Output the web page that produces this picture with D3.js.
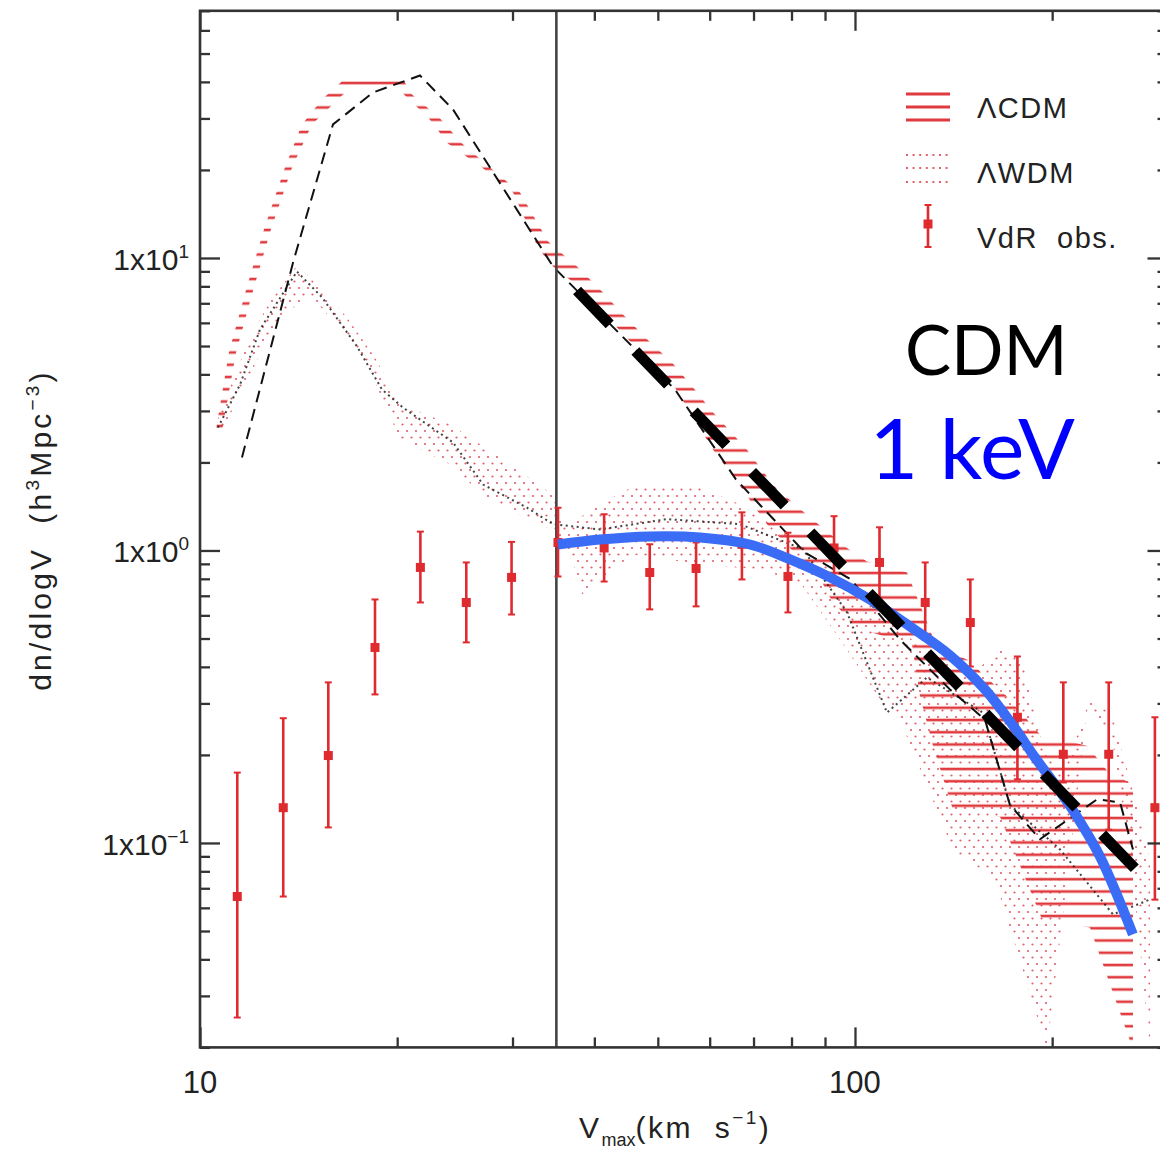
<!DOCTYPE html>
<html><head><meta charset="utf-8">
<script src="https://cdn.jsdelivr.net/npm/d3@7"></script>
<style>
html,body{margin:0;padding:0;background:#fff;}
svg{display:block;}
text{white-space:pre;}
</style></head>
<body>
<svg id="chart" width="1160" height="1149"></svg>
<script>
// ---------- data ----------
const xDomain = [10, 300];
const yDomain = [0.02, 70];
const xTickValues = [10, 100];
const xTickLabels = ["10", "100"];
const yTickValues = [0.1, 1, 10];
const yTickExponents = ["\u22121", "0", "1"];
const cutVelocity = 35;

// VdR observations
const obsV  = [11.4, 13.4, 15.7, 18.5, 21.7, 25.5, 29.9, 35.2, 41.4, 48.6, 57.2, 67.2, 79.0, 92.9, 109, 128, 150, 177, 208, 244, 287];
const obsN  = [0.0656, 0.132, 0.199, 0.466, 0.875, 0.664, 0.809, 1.065, 1.02, 0.841, 0.868, 1.05, 0.815, 1.02, 0.91, 0.664, 0.567, 0.269, 0.201, 0.201, 0.132];
const obsLo = [0.0253, 0.0656, 0.113, 0.322, 0.664, 0.485, 0.604, 0.815, 0.783, 0.629, 0.644, 0.796, 0.614, 0.783, 0.644, 0.496, 0.401, 0.165, 0.161, 0.111, 0.064];
const obsHi = [0.174, 0.267, 0.354, 0.68, 1.16, 0.91, 1.07, 1.40, 1.33, 1.05, 1.065, 1.35, 1.15, 1.31, 1.2, 0.91, 0.796, 0.434, 0.354, 0.354, 0.269];

// LambdaCDM band [V, dn/dlogV]
const cdmUpper = [[10.58,2.59],[11.07,4.75],[11.75,7.74],[12.52,12.51],[13.48,20.39],[14.31,28.61],[15.36,34.84],[16.65,41.09],[20.34,41.41],[21.07,36.24],[23.25,29.99],[25.12,24.63],[27.72,20.39],[30.80,16.75],[34.00,11.39],[35.83,10.28],[37.64,9.35],[41.09,7.68],[44.24,6.41],[48.13,5.27],[52.55,4.39],[56.59,3.61],[60.72,2.96],[68.42,2.21],[75.21,1.66],[83.28,1.36],[97.23,1.02],[104.3,0.917],[120.1,0.841],[133.4,0.466],[148.3,0.424],[170.6,0.317],[191.6,0.235],[226.1,0.215],[242.5,0.177],[265.7,0.158]];
const cdmLower = [[10.80,2.55],[11.35,4.75],[12.05,7.74],[12.83,12.51],[13.82,20.39],[14.82,28.61],[16.24,34.84],[16.83,37.69],[20.20,37.69],[20.49,36.24],[22.37,29.99],[23.91,24.63],[26.95,20.39],[30.06,16.75],[32.48,11.39],[33.41,10.28],[34.60,9.35],[38.71,7.68],[41.53,6.41],[45.03,5.27],[49.16,4.39],[53.11,3.61],[56.00,2.96],[60.72,2.21],[66.76,1.66],[73.39,1.23],[79.57,1.02],[83.28,0.917],[87.50,0.841],[91.58,0.691],[100,0.545],[122.2,0.477],[125.7,0.317],[131.6,0.214],[141.1,0.130],[166.5,0.123],[193.0,0.0548],[228.4,0.0514],[265.7,0.0197]];
const cdmMedian = [[11.59,2.08],[13.87,9.65],[15.96,28.61],[18.37,36.81],[21.67,42.06],[24.34,32.19],[34.60,9.35],[53.11,3.55],[65.8,1.75],[83.87,0.984],[98.6,0.796],[117.1,0.496],[139.6,0.335],[157.9,0.264],[172.4,0.135],[191.6,0.103],[234.2,0.141],[253.9,0.1376],[265.7,0.095]];

// LambdaWDM band
const wdmUpper = [[10.58,2.70],[11.19,3.75],[11.92,5.35],[12.79,7.10],[14.06,9.43],[15.36,7.80],[16.77,6.26],[18.50,4.57],[20.20,3.18],[24.08,2.70],[28.71,2.08],[34.60,1.55],[36.08,1.20],[40.80,1.44],[46.48,1.68],[58.01,1.64],[66.76,1.44],[75.21,1.21],[83.87,1.02],[91.58,0.896],[105.4,0.680],[119.2,0.516],[134.9,0.424],[152.5,0.386],[166.5,0.459],[179.9,0.424],[195.0,0.201],[209.2,0.178],[228.4,0.310],[246.8,0.275],[262.9,0.165],[282.2,0.0878]];
const wdmLower = [[10.80,2.55],[11.51,3.41],[12.35,4.68],[13.48,6.41],[14.72,7.50],[16.36,5.70],[18.18,4.09],[20.20,2.40],[24.08,1.97],[27.24,1.52],[32.25,1.26],[34.83,1.16],[36.72,0.984],[38.31,0.707],[40.80,0.796],[45.83,0.969],[58.01,0.896],[71.61,0.861],[82.41,0.777],[94.86,0.496],[109.2,0.310],[117.1,0.264],[141.1,0.095],[163.6,0.075],[196.4,0.0197],[226.8,0.298],[246.8,0.226],[262.9,0.095],[282.2,0.0197]];
const wdmMedian = [[10.65,2.63],[11.51,3.69],[12.35,5.70],[14.06,8.99],[15.36,7.33],[17.37,4.98],[18.96,3.55],[20.41,3.08],[24.34,2.34],[27.05,1.68],[31.57,1.40],[34.60,1.23],[40.80,1.18],[51.64,1.28],[66.76,1.23],[83.28,1.01],[97.23,0.614],[111.9,0.279],[128.8,0.368],[156.8,0.279],[172.4,0.135],[205.6,0.095],[247.7,0.057],[282.2,0.0641]];

// overlays
const keV1Curve = [[35.2,1.048],[40.8,1.090],[48.6,1.117],[58.0,1.108],[69.1,1.048],[79.6,0.932],[91.6,0.809],[105.4,0.680],[121.3,0.550],[139.6,0.438],[157.9,0.335],[174.3,0.252],[188.3,0.196],[203.4,0.155],[216.7,0.126],[236.6,0.0899],[265.6,0.0487]];
const cdmPowerLaw = [[37.64,7.74],[100,0.802],[270.4,0.0799]];

const legendLabels = ["\u039BCDM", "\u039BWDM", "VdR  obs."];
const annotationLabels = ["CDM", "1 keV"];

// ---------- drawing ----------
const svg = d3.select("#chart");
const x = d3.scaleLog().domain(xDomain).range([200, 1167.5]);
const y = d3.scaleLog().domain(yDomain).range([1047.4, 10.8]);
const [X0, X1] = x.range();
const [Y0, Y1] = y.range(); // Y0 bottom, Y1 top

const RED = "#df2a2f";
const defs = svg.append("defs");
defs.append("clipPath").attr("id","plotClip").append("rect")
  .attr("x",X0).attr("y",Y1).attr("width",X1-X0).attr("height",Y0-Y1);

const hatch = defs.append("pattern").attr("id","hatchCDM")
  .attr("patternUnits","userSpaceOnUse").attr("width",400).attr("height",12.25);
hatch.append("rect").attr("x",0).attr("y",8.2).attr("width",400).attr("height",2.6).attr("fill","#e03a3e");

const dots = defs.append("pattern").attr("id","dotsWDM")
  .attr("patternUnits","userSpaceOnUse").attr("width",9).attr("height",13);
dots.append("circle").attr("cx",2).attr("cy",2).attr("r",1.1).attr("fill","#e0606a");
dots.append("circle").attr("cx",6.5).attr("cy",8.5).attr("r",1.1).attr("fill","#e0606a");

const line = d3.line().x(d=>x(d[0])).y(d=>y(d[1]));
const band = (u,l) => line(u.concat(l.slice().reverse())) + "Z";

const plot = svg.append("g").attr("clip-path","url(#plotClip)");

plot.append("path").attr("d", band(wdmUpper, wdmLower)).attr("fill","url(#dotsWDM)");
plot.append("path").attr("d", band(cdmUpper, cdmLower)).attr("fill","url(#hatchCDM)");

plot.append("path").attr("d", line(wdmMedian)).attr("fill","none")
  .attr("stroke","#222").attr("stroke-width",2).attr("stroke-dasharray","2,3.5").attr("opacity",0.85);
plot.append("path").attr("d", line(cdmMedian)).attr("fill","none")
  .attr("stroke","#111").attr("stroke-width",2).attr("stroke-dasharray","12,7");

// vertical cut line
plot.append("line").attr("x1",x(cutVelocity)).attr("x2",x(cutVelocity))
  .attr("y1",Y1).attr("y2",Y0).attr("stroke","#444").attr("stroke-width",2.6);

// error bars
const eb = plot.append("g");
obsV.forEach((v,i)=>{
  const cx = x(v);
  eb.append("line").attr("x1",cx).attr("x2",cx).attr("y1",y(obsLo[i])).attr("y2",y(obsHi[i]))
    .attr("stroke",RED).attr("stroke-width",2.6);
  [obsLo[i], obsHi[i]].forEach(e=>{
    eb.append("line").attr("x1",cx-3.5).attr("x2",cx+3.5).attr("y1",y(e)).attr("y2",y(e))
      .attr("stroke",RED).attr("stroke-width",2);
  });
  eb.append("rect").attr("x",cx-4.5).attr("y",y(obsN[i])-4.5).attr("width",9).attr("height",9).attr("fill",RED);
});

// blue 1 keV curve
plot.append("path").attr("d", d3.line().curve(d3.curveCatmullRom.alpha(0.5)).x(d=>x(d[0])).y(d=>y(d[1]))(keV1Curve))
  .attr("fill","none").attr("stroke","#3b6cf6").attr("stroke-width",10).attr("stroke-linecap","butt");

// thick dashed CDM line
plot.append("path").attr("d", line(cdmPowerLaw)).attr("fill","none")
  .attr("stroke","#000").attr("stroke-width",11).attr("stroke-dasharray","47,37");

// ---------- axes ----------
const minorOf = dom => {
  const out = [];
  for (let e = Math.floor(Math.log10(dom[0])); e <= Math.ceil(Math.log10(dom[1])); e++)
    for (let k = 1; k <= 9; k++) { const v = k*Math.pow(10,e); if (v >= dom[0]*0.999 && v <= dom[1]*1.001) out.push(v); }
  return out;
};
const xMinor = minorOf(xDomain).filter(v=>!xTickValues.includes(v));
const yMinor = minorOf(yDomain).filter(v=>!yTickValues.some(t=>Math.abs(t-v)<1e-9));

function styleAxis(g){ g.select(".domain").remove(); g.selectAll("line").attr("stroke","#333").attr("stroke-width",2.3); g.selectAll("text").remove(); }
const axes = svg.append("g");
axes.append("g").attr("transform",`translate(0,${Y0})`).call(d3.axisBottom(x).tickValues(xTickValues).tickSize(-20)).call(styleAxis);
axes.append("g").attr("transform",`translate(0,${Y0})`).call(d3.axisBottom(x).tickValues(xMinor).tickSize(-10)).call(styleAxis);
axes.append("g").attr("transform",`translate(0,${Y1})`).call(d3.axisTop(x).tickValues(xTickValues).tickSize(-20)).call(styleAxis);
axes.append("g").attr("transform",`translate(0,${Y1})`).call(d3.axisTop(x).tickValues(xMinor).tickSize(-10)).call(styleAxis);
axes.append("g").attr("transform",`translate(${X0},0)`).call(d3.axisLeft(y).tickValues(yTickValues).tickSize(-20)).call(styleAxis);
axes.append("g").attr("transform",`translate(${X0},0)`).call(d3.axisLeft(y).tickValues(yMinor).tickSize(-10)).call(styleAxis);
axes.append("g").attr("transform",`translate(${X1},0)`).call(d3.axisRight(y).tickValues(yTickValues).tickSize(-20)).call(styleAxis);
axes.append("g").attr("transform",`translate(${X1},0)`).call(d3.axisRight(y).tickValues(yMinor).tickSize(-10)).call(styleAxis);
axes.append("rect").attr("x",X0).attr("y",Y1).attr("width",X1-X0).attr("height",Y0-Y1)
  .attr("fill","none").attr("stroke","#333").attr("stroke-width",2.6);

const FONT = "'Liberation Sans', Arial, sans-serif";
// x tick labels
xTickValues.forEach((v,i)=>{
  svg.append("text").attr("x",x(v)).attr("y",1093).attr("text-anchor","middle")
    .attr("font-family",FONT).attr("font-size",31).attr("fill","#222").text(xTickLabels[i]);
});
// y tick labels
yTickValues.forEach((v,i)=>{
  const t = svg.append("text").attr("x",189).attr("y",y(v)+12).attr("text-anchor","end")
    .attr("font-family",FONT).attr("font-size",30).attr("fill","#222");
  t.append("tspan").text("1x10");
  t.append("tspan").attr("font-size",19).attr("dy",-12).text(yTickExponents[i]);
});

// axis titles
const yt = svg.append("text").attr("transform","translate(51,530) rotate(-90)").attr("text-anchor","middle")
  .attr("font-family",FONT).attr("font-size",30).attr("fill","#222").attr("letter-spacing",3.2);
yt.append("tspan").text("dn/dlogV  (h");
yt.append("tspan").attr("font-size",19).attr("dy",-12).text("3");
yt.append("tspan").attr("dy",12).text("Mpc");
yt.append("tspan").attr("font-size",19).attr("dy",-12).text("\u22123");
yt.append("tspan").attr("dy",12).text(")");

const xt = svg.append("text").attr("x",579).attr("y",1138).attr("text-anchor","start")
  .attr("font-family",FONT).attr("font-size",30).attr("fill","#222").attr("letter-spacing",2.5);
xt.append("tspan").text("V");
xt.append("tspan").attr("font-size",18).attr("dy",8).attr("letter-spacing",0).text("max");
xt.append("tspan").attr("dy",-8).text("(km  s");
xt.append("tspan").attr("font-size",19).attr("dy",-14).text("\u22121");
xt.append("tspan").attr("dy",14).text(")");

// ---------- legend ----------
const lg = svg.append("g");
const LX0 = 906, LX1 = 950, LTX = 977;
[94,107,120].forEach(yy=>lg.append("line").attr("x1",LX0).attr("x2",LX1).attr("y1",yy).attr("y2",yy)
  .attr("stroke","#e03a3e").attr("stroke-width",3));
[155,168,182].forEach(yy=>lg.append("line").attr("x1",LX0).attr("x2",LX1).attr("y1",yy).attr("y2",yy)
  .attr("stroke","#e0606a").attr("stroke-width",2).attr("stroke-dasharray","2,4.6"));
const lcx = (LX0+LX1)/2;
lg.append("line").attr("x1",lcx).attr("x2",lcx).attr("y1",205).attr("y2",247).attr("stroke",RED).attr("stroke-width",2.6);
[205,247].forEach(yy=>lg.append("line").attr("x1",lcx-3.5).attr("x2",lcx+3.5).attr("y1",yy).attr("y2",yy).attr("stroke",RED).attr("stroke-width",2));
lg.append("rect").attr("x",lcx-4.5).attr("y",224-4.5).attr("width",9).attr("height",9).attr("fill",RED);
[118,183,248].forEach((yy,i)=>lg.append("text").attr("x",LTX).attr("y",yy)
  .attr("font-family",FONT).attr("font-size",29).attr("letter-spacing",1.5).attr("fill","#222").text(legendLabels[i]));

// ---------- annotations ----------
svg.append("text").attr("x",905).attr("y",375).attr("font-family","Lato, 'Open Sans', sans-serif")
  .attr("font-size",69).attr("fill","#000").text(annotationLabels[0]);
svg.append("text").attr("x",1075).attr("y",479).attr("text-anchor","end").attr("font-family","Lato, 'Open Sans', sans-serif")
  .attr("font-size",84).attr("fill","#0000ff").text(annotationLabels[1]);
</script>
</body></html>
